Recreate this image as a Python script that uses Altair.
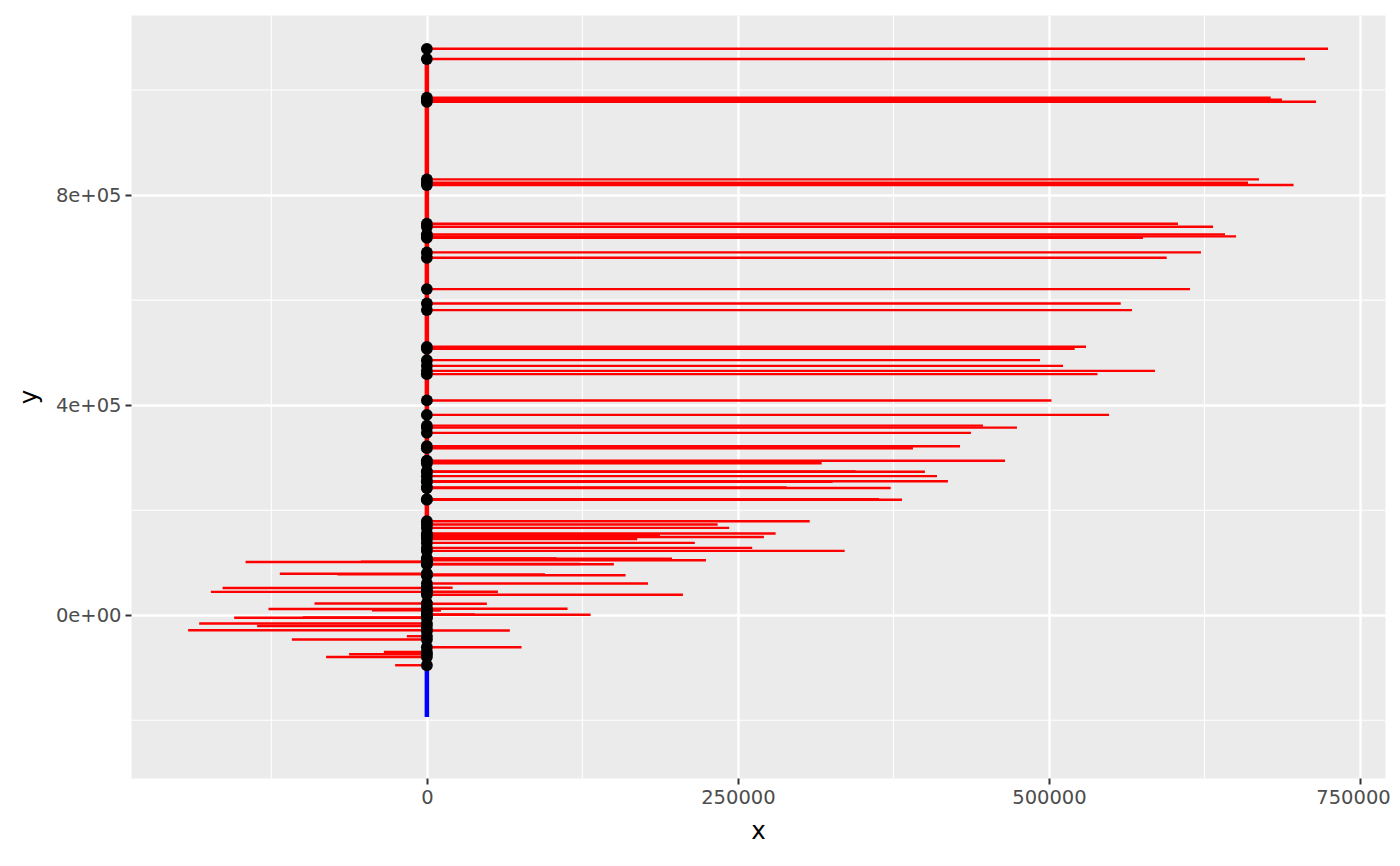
import altair as alt
import pandas as pd

# horizontal segments: each starts at x=0 and ends at seg_x, at height seg_y
seg_y = [1078500, 1059100, 985400, 981500, 977700, 829900, 823400, 819100,
         745400, 739600, 725200, 721300, 718700, 690900, 680600, 621000,
         593700, 581000, 511100, 507300, 485700, 474900, 465300, 459100,
         409000, 381500, 361000, 357200, 347300, 321900, 318100, 294300,
         293300, 289500, 273700, 273300, 264800, 255200, 254300, 243200,
         242300, 221000, 220000, 179100, 172800, 166300, 155600, 152400,
         149100, 145300, 137700, 128200, 122500, 108000, 107600, 104800,
         101500, 101900, 97700, 97100, 79000, 78100, 77500, 76200,
         60400, 52000, 52400, 44400, 44800, 39000, 22300, 21900,
         12000, 12400, 9500, 9000, 1300, 1000, -4400, -4800,
         -15800, -20400, -28600, -29100, -40000, -46300, -61000, -69900,
         -74300, -79400, -95200]
seg_x = [724300, 705800, 678200, 687300, 714700, 668800, 660000, 696600,
         603700, 631900, 641500, 650400, 575600, 622200, 594600, 613400,
         557700, 566700, 529800, 520700, 492800, 511300, 585200, 539000,
         502000, 548300, 447000, 474300, 437300, 428500, 390700, 464700,
         298200, 317300, 344600, 400300, 410000, 418800, 326100, 289200,
         372800, 363400, 381900, 307700, 233700, 243000, 280300, 187300,
         270900, 169100, 215400, 261500, 335800, 104300, 197000, 224300,
         -145700, -53100, 123000, 150300, -118200, -71800, 94900, 159700,
         177700, -164200, 20700, -173600, 57100, 205800, -90300, 48200,
         -127300, 113100, -44200, 11300, 38600, 131600, -99700, -154900,
         -183000, -136400, -191900, 66700, -16100, -108500, 76100, -34600,
         -62500, -81000, -25500]
assert len(seg_y) == len(seg_x)

# vertical stem at x=0
stem_lo = [-193700, -95200]
stem_hi = [-95200, 1078500]
stem_col = ["#0000FF", "#FF0000"]

x_major = [0, 250000, 500000, 750000]
x_minor = [-125000, 125000, 375000, 625000]
y_major = [0, 400000, 800000]
y_minor = [-200000, 200000, 600000, 1000000]
y_labels = {0: "0e+00", 400000: "4e+05", 800000: "8e+05"}
x_domain = [-237800, 770100]
y_domain = [-309900, 1142900]

segs = pd.DataFrame({"x0": [0] * len(seg_x), "x": seg_x, "y": seg_y})
stems = pd.DataFrame({"x0": [0, 0], "y0": stem_lo, "y1": stem_hi, "c": stem_col})
xmin_df = pd.DataFrame({"v": x_minor})
ymin_df = pd.DataFrame({"v": y_minor})

FONT = "DejaVu Sans"
label_expr = " : ".join(
    f"datum.value == {k} ? '{v}'" for k, v in y_labels.items()) + " : ''"

common_axis = dict(grid=True, gridColor="white", gridWidth=2.4, domain=False,
                   tickColor="#333333", tickWidth=2, tickSize=6,
                   labelColor="#4D4D4D", labelFontSize=19.5, labelFont=FONT,
                   titleFont=FONT, titleFontSize=24.5, titleFontWeight="normal",
                   titleColor="black", labelFlush=False)
xaxis = alt.Axis(values=x_major, title="x", format="d", labelPadding=4,
                 labelOffset={"condition": {"test": f"datum.value == {x_major[-1]}",
                                            "value": -7},
                              "value": 0},
                 titlePadding=13, **common_axis)
yaxis = alt.Axis(values=y_major, title="y", labelExpr=label_expr,
                 labelPadding=4, titlePadding=14, **common_axis)
xs = alt.Scale(domain=x_domain, nice=False, zero=False)
ys = alt.Scale(domain=y_domain, nice=False, zero=False)

minor_x = alt.Chart(xmin_df).mark_rule(color="white", strokeWidth=1.1).encode(
    x=alt.X("v:Q", scale=xs, axis=xaxis))
minor_y = alt.Chart(ymin_df).mark_rule(color="white", strokeWidth=1.1).encode(
    y=alt.Y("v:Q", scale=ys, axis=yaxis))

stem = alt.Chart(stems).mark_rule(strokeWidth=4.5).encode(
    x=alt.X("x0:Q", scale=xs, axis=xaxis),
    y=alt.Y("y0:Q", scale=ys, axis=yaxis),
    y2="y1:Q",
    color=alt.Color("c:N", scale=None))

hseg = alt.Chart(segs).mark_rule(color="#FF0000", strokeWidth=2.4).encode(
    x=alt.X("x0:Q", scale=xs, axis=xaxis),
    x2="x:Q",
    y=alt.Y("y:Q", scale=ys, axis=yaxis))

pts = alt.Chart(segs).mark_circle(size=140, color="black", opacity=1).encode(
    x=alt.X("x0:Q", scale=xs, axis=xaxis),
    y=alt.Y("y:Q", scale=ys, axis=yaxis))

chart = alt.layer(minor_x, minor_y, stem, hseg, pts).properties(
    width=1254, height=763,
    autosize=alt.AutoSizeParams(type="none"),
    padding={"left": 123, "top": 7, "right": 7, "bottom": 78},
    background="white",
).configure_view(fill="#EBEBEB", stroke="transparent")

chart.save("out.html", embed_options={"renderer": "svg", "actions": False})
